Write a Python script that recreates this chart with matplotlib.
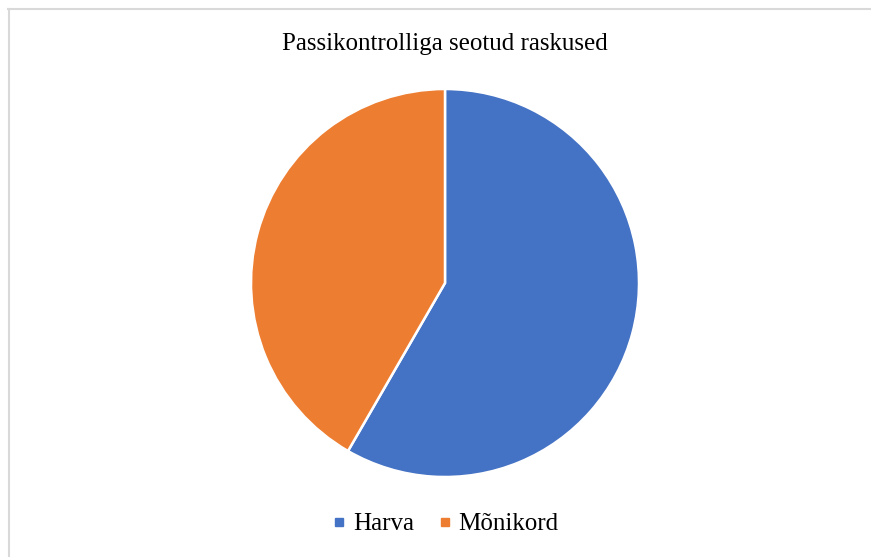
import matplotlib.pyplot as plt
from matplotlib.lines import Line2D

labels = ["Harva", "Mõnikord"]
values = [7, 5]
colors = ["#4472C4", "#ED7D31"]
title = "Passikontrolliga seotud raskused"

plt.rcParams["font.family"] = ["Liberation Serif", "DejaVu Serif"]

W, H = 871, 557
fig = plt.figure(figsize=(W / 100, H / 100), dpi=100)

# chart frame (left and top edges visible)
frame_kw = dict(transform=fig.transFigure, color="#d9d9d9", linewidth=1.5)
fig.add_artist(Line2D([8.5 / W, 8.5 / W], [0, 1 - 8.5 / H], **frame_kw))
fig.add_artist(Line2D([8 / W, 1], [1 - 8.5 / H, 1 - 8.5 / H], **frame_kw))

cx, cy, r = 445, 283, 194
ax = fig.add_axes([(cx - r) / W, (H - cy - r) / H, 2 * r / W, 2 * r / H])
ax.pie(values, colors=colors, startangle=90, counterclock=False, radius=1,
       wedgeprops=dict(edgecolor="white", linewidth=1.8))
ax.set_xlim(-1, 1)
ax.set_ylim(-1, 1)

fig.text(445 / W, 1 - 44 / H, title, ha="center", va="center", fontsize=18)

handles = [Line2D([], [], marker="s", linestyle="none", markersize=5.5,
                  markerfacecolor=c, markeredgecolor=c) for c in colors]
fig.legend(handles, labels, loc="center", bbox_to_anchor=(446 / W, 1 - 524 / H),
           ncol=2, frameon=False, fontsize=18, handlelength=0.5,
           handletextpad=0.3, columnspacing=0.98)

fig.savefig("out.png", dpi=100)
